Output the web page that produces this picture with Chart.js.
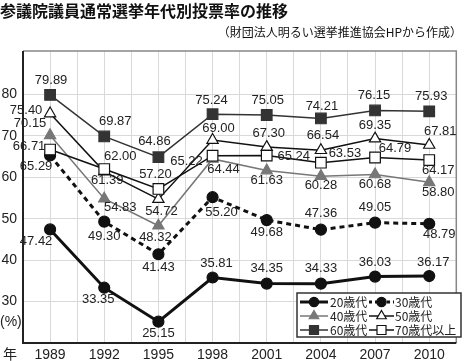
<!DOCTYPE html>
<html>
<head>
<meta charset="utf-8">
<script src="https://cdn.jsdelivr.net/npm/chart.js@4/dist/chart.umd.min.js"></script>
<style>
  body { margin: 0; background: #fff; }
  #wrap { width: 465px; height: 361px; position: relative; }
</style>
</head>
<body>
<div id="wrap"><canvas id="turnoutChart"></canvas></div>
<script>
// election years and turnout (%) by age group
var years = [1989, 1992, 1995, 1998, 2001, 2004, 2007, 2010];
var age20 = [47.42, 33.35, 25.15, 35.81, 34.35, 34.33, 36.03, 36.17];
var age30 = [65.29, 49.30, 41.43, 55.20, 49.68, 47.36, 49.05, 48.79];
var age40 = [70.15, 54.83, 48.32, 64.44, 61.63, 60.28, 60.68, 58.80];
var age50 = [75.40, 61.39, 54.72, 69.00, 67.30, 66.54, 69.35, 67.81];
var age60 = [79.89, 69.87, 64.86, 75.24, 75.05, 74.21, 76.15, 75.93];
var age70 = [66.71, 62.00, 57.20, 65.22, 65.24, 63.53, 64.79, 64.17];
var seriesNames = ['20歳代', '30歳代', '40歳代', '50歳代', '60歳代', '70歳代以上'];
var yTicks = [30, 40, 50, 60, 70, 80];

// where each value label sits relative to its point (dx, dy)
var labelOffsets = [
  [[-14,12],[-6,12],[0,12],[4,-14],[0,-15],[0,-15],[0,-14],[4,-14]],
  [[-14,11],[0,15],[0,13],[9,15],[0,12],[0,-16],[0,-15],[10,11]],
  [[-20,-12],[16,9],[-3,12],[11,10],[0,10],[0,9],[0,10],[9,10]],
  [[-24,-3],[3,9],[3,12],[6,-12],[2,-14],[2,-15],[0,-13],[11,-14]],
  [[1,-15],[11,-15],[-4,-16],[-1,-14],[1,-15],[1,-12],[-1,-15],[2,-15]],
  [[-21,-3],[16,-13],[-3,-15],[-26,6],[27,1],[24,-9],[20,-9],[9,10]]
];

function toPoints(values) {
  return years.map(function (yr, i) { return { x: yr, y: values[i] }; });
}

var styles = [
  { line: '#111', width: 3, dash: [], style: 'circle', r: 5.5, fill: '#111' },
  { line: '#111', width: 3, dash: [5, 4], style: 'circle', r: 5.5, fill: '#111' },
  { line: '#777', width: 1.5, dash: [], style: 'triangle', r: 6.5, fill: '#777' },
  { line: '#111', width: 1.5, dash: [], style: 'triangle', r: 6.5, fill: '#fff' },
  { line: '#333', width: 1.5, dash: [], style: 'rect', r: 7.5, fill: '#333' },
  { line: '#111', width: 1.5, dash: [], style: 'rect', r: 7.5, fill: '#fff' }
];
var allValues = [age20, age30, age40, age50, age60, age70];

var datasets = allValues.map(function (vals, i) {
  var s = styles[i];
  return {
    label: seriesNames[i],
    data: toPoints(vals),
    borderColor: s.line,
    borderWidth: s.width,
    borderDash: s.dash,
    pointStyle: s.style,
    pointRadius: s.r,
    pointBackgroundColor: s.fill,
    pointBorderColor: s.fill === '#fff' ? '#111' : s.fill,
    pointBorderWidth: 1.2,
    tension: 0,
    order: 6 - i
  };
});

var labelFont = '13px "Liberation Sans", Arial, sans-serif';

var decorPlugin = {
  id: 'decor',
  beforeDatasetsDraw: function (chart) {
    var ctx = chart.ctx, a = chart.chartArea;
    ctx.save();
    ctx.strokeStyle = '#888';
    ctx.lineWidth = 1.5;
    ctx.beginPath();
    ctx.moveTo(a.left, a.top); ctx.lineTo(a.right, a.top); ctx.lineTo(a.right, a.bottom);
    ctx.stroke();
    ctx.strokeStyle = '#222';
    ctx.lineWidth = 2;
    ctx.beginPath();
    ctx.moveTo(a.left, a.top); ctx.lineTo(a.left, a.bottom); ctx.lineTo(a.right, a.bottom);
    ctx.stroke();
    ctx.restore();
  },
  afterDatasetsDraw: function (chart) {
    var ctx = chart.ctx;
    ctx.save();
    ctx.font = labelFont;
    ctx.fillStyle = '#222';
    ctx.textAlign = 'center';
    ctx.textBaseline = 'middle';
    chart.data.datasets.forEach(function (ds, i) {
      var meta = chart.getDatasetMeta(i);
      meta.data.forEach(function (pt, j) {
        var off = labelOffsets[i][j];
        ctx.fillText(allValues[i][j].toFixed(2), pt.x + off[0], pt.y + off[1]);
      });
    });
    ctx.restore();
  },
  afterDraw: function (chart) {
    var ctx = chart.ctx;
    ctx.save();
    // titles
    ctx.fillStyle = '#111';
    ctx.textBaseline = 'middle';
    ctx.textAlign = 'left';
    ctx.font = 'bold 16px "Noto Sans CJK JP", sans-serif';
    ctx.fillText('参議院議員通常選挙年代別投票率の推移', 0, 11);
    ctx.font = '12px "Noto Sans CJK JP", sans-serif';
    ctx.textAlign = 'right';
    ctx.fillText('（財団法人明るい選挙推進協会HPから作成）', 462, 32);
    // axis units
    ctx.fillStyle = '#222';
    ctx.textAlign = 'left';
    ctx.font = '14px "Liberation Sans", Arial, sans-serif';
    ctx.fillText('(%)', 0, 322);
    ctx.font = '14px "Noto Sans CJK JP", sans-serif';
    ctx.fillText('年', 3, 354);

    // legend box
    var bx = 297, by = 293, bw = 164, bh = 44;
    ctx.fillStyle = '#fff';
    ctx.fillRect(bx, by, bw, bh);
    ctx.strokeStyle = '#333';
    ctx.lineWidth = 1.5;
    ctx.strokeRect(bx, by, bw, bh);
    var rowsY = [302, 316, 330];
    var cols = [{ x0: 300, x1: 328, tx: 330 }, { x0: 369, x1: 394, tx: 395 }];
    ctx.font = '12px "Noto Sans CJK JP", sans-serif';
    ctx.textBaseline = 'middle';
    chart.data.datasets.forEach(function (ds, i) {
      var col = cols[i % 2], y = rowsY[Math.floor(i / 2)];
      var s = styles[i];
      ctx.strokeStyle = s.line;
      ctx.lineWidth = s.width;
      ctx.setLineDash(s.dash.length ? [3, 3] : []);
      ctx.beginPath();
      ctx.moveTo(col.x0, y); ctx.lineTo(col.x1, y);
      ctx.stroke();
      ctx.setLineDash([]);
      ctx.fillStyle = s.fill;
      ctx.strokeStyle = s.fill === '#fff' ? '#111' : s.fill;
      ctx.lineWidth = 1.2;
      Chart.helpers.drawPoint(ctx, { pointStyle: s.style, radius: s.r * 0.85, rotation: 0, borderWidth: 1.2 }, (col.x0 + col.x1) / 2, y);
      ctx.fillStyle = '#222';
      ctx.textAlign = 'left';
      ctx.fillText(ds.label, col.tx, y);
    });
    ctx.restore();
  }
};

new Chart(document.getElementById('turnoutChart'), {
  type: 'line',
  data: { datasets: datasets },
  plugins: [decorPlugin],
  options: {
    responsive: true,
    maintainAspectRatio: false,
    animation: false,
    layout: { padding: { top: 51, right: 3, left: 0, bottom: 0 } },
    plugins: { legend: { display: false }, tooltip: { enabled: false } },
    scales: {
      x: {
        type: 'linear',
        min: 1987.5,
        max: 2011.5,
        afterBuildTicks: function (scale) {
          var t = [];
          for (var v = 1987.5; v <= 2011.5; v += 1.5) t.push({ value: v });
          scale.ticks = t;
        },
        afterFit: function (scale) { scale.height = 18; },
        border: { display: false },
        grid: { color: '#d9d9d9', lineWidth: 1, drawTicks: false },
        ticks: {
          padding: 4,
          color: '#222',
          font: { size: 14, family: '"Liberation Sans", Arial, sans-serif' },
          maxRotation: 0,
          autoSkip: false,
          callback: function (v) { return years.indexOf(v) >= 0 ? String(v) : ''; }
        }
      },
      y: {
        min: 20,
        max: 90.5,
        afterBuildTicks: function (scale) {
          scale.ticks = yTicks.map(function (v) { return { value: v }; });
        },
        afterFit: function (scale) { scale.width = 23; },
        border: { display: false },
        grid: { color: '#d9d9d9', lineWidth: 1, drawTicks: false },
        ticks: {
          padding: 6,
          color: '#222',
          font: { size: 14, family: '"Liberation Sans", Arial, sans-serif' }
        }
      }
    }
  }
});
</script>
</body>
</html>
